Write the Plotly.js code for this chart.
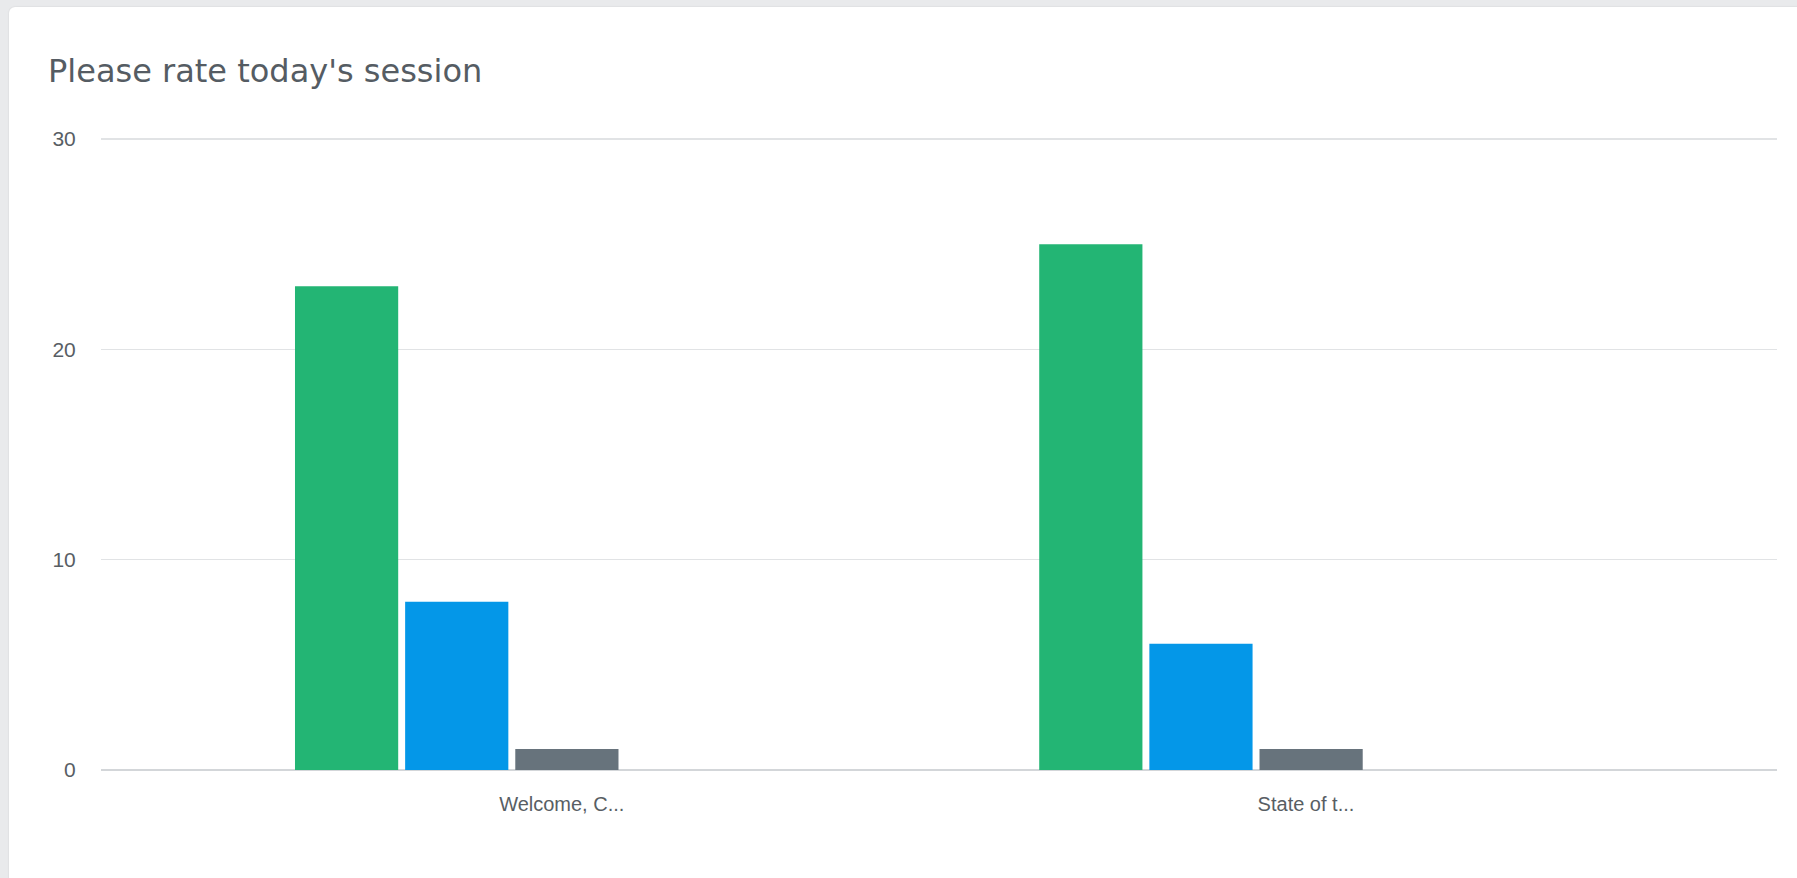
<!DOCTYPE html>
<html>
<head>
<meta charset="utf-8">
<script src="https://cdn.plot.ly/plotly-3.0.1.min.js"></script>
<style>
  html, body { margin: 0; padding: 0; width: 1797px; height: 878px; overflow: hidden; background: #e9eaec; }
  #card { position: absolute; left: 9px; top: 7px; width: 1800px; height: 880px; background: #ffffff; border-radius: 6px; box-shadow: 0 0 2px rgba(0,0,0,0.12); }
  #chart { position: absolute; left: 0; top: 0; width: 1797px; height: 878px; }
</style>
</head>
<body>
<div id="card"></div>
<div id="chart"></div>
<script>
// Data
const categories = ["Welcome, C...", "State of t..."];
const excellent = [23, 25];
const good = [8, 6];
const fair = [1, 1];
const seriesNames = ["Excellent", "Good", "Fair"];
const seriesColors = ["#23b574", "#0497e8", "#67737c"];
const yTickVals = [0, 10, 20, 30];

const seriesValues = [excellent, good, fair];
const traces = seriesValues.map((vals, i) => ({
  type: "bar",
  x: categories,
  y: vals,
  name: seriesNames[i],
  marker: { color: seriesColors[i], line: { width: 0 } },
  hoverinfo: "x+y+name"
}));

// y range slightly above 30 so the top gridline is drawn
const yTop = 30.1;
const plotH = 631 * yTop / 30;

const layout = {
  width: 1797,
  height: 878,
  paper_bgcolor: "rgba(0,0,0,0)",
  plot_bgcolor: "rgba(0,0,0,0)",
  showlegend: false,
  barmode: "group",
  bargap: 0.556,
  bargroupgap: 0.063,
  margin: { l: 101, r: 20, t: 878 - 108 - plotH, b: 108, pad: 0 },
  title: {
    text: "Please rate today's session",
    font: { family: "'DejaVu Sans', 'Noto Sans', sans-serif", size: 32, weight: 400, color: "#555c63" },
    xref: "container", yref: "container",
    x: 48 / 1797, xanchor: "left",
    y: 1 - 71 / 878, yanchor: "middle"
  },
  xaxis: {
    type: "category",
    range: [-0.478, 1.774],
    showgrid: false,
    zeroline: false,
    showline: false,
    ticks: "outside",
    ticklen: 16,
    tickcolor: "rgba(0,0,0,0)",
    ticklabelshift: 105,
    tickfont: { family: "'Liberation Sans', Arial, sans-serif", size: 20, color: "#585e64" },
    fixedrange: true
  },
  yaxis: {
    range: [0, yTop],
    tickmode: "array",
    tickvals: yTickVals,
    ticktext: yTickVals.map(String),
    showgrid: true,
    gridcolor: "#e1e3e5",
    gridwidth: 1.5,
    zeroline: true,
    zerolinecolor: "#d3d6d9",
    zerolinewidth: 2,
    showline: false,
    ticks: "outside",
    ticklen: 20,
    tickcolor: "rgba(0,0,0,0)",
    tickfont: { family: "'Liberation Sans', Arial, sans-serif", size: 21, color: "#585e64" },
    fixedrange: true
  }
};

Plotly.newPlot("chart", traces, layout, { displayModeBar: false, staticPlot: true });
</script>
</body>
</html>
